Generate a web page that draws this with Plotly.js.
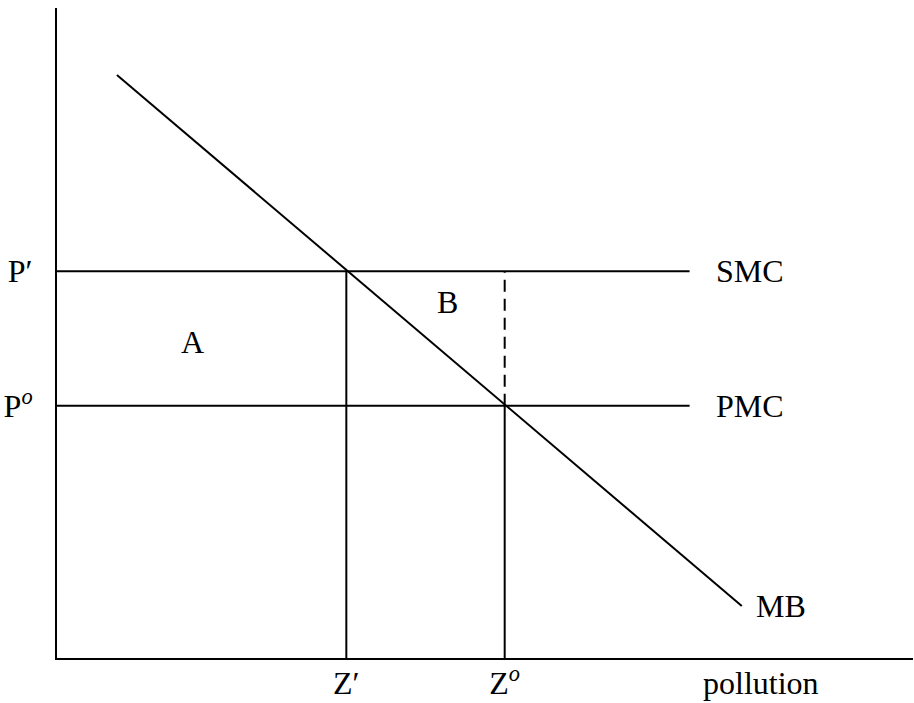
<!DOCTYPE html>
<html>
<head>
<meta charset="utf-8">
<script src="https://cdn.plot.ly/plotly-3.0.1.min.js"></script>
<style>html,body{margin:0;padding:0;background:#fff;}#chart{width:914px;height:703px;}</style>
</head>
<body>
<div id="chart"></div>
<script>
// Data (abstract units)
const priceLevels = [59.5, 38.8];          // P', P°
const priceLabels = ["P′", "P<sup><i>o</i></sup>"];
const quantityLevels = [33.8, 52.3];       // Z', Z°
const quantityLabels = ["Z′", "Z<sup><i>o</i></sup>"];
const mbX = [7, 80];
const mbY = [89.7, 8];
const costEndX = 73.9;
const curveLabels = ["SMC", "PMC", "MB"];
const areaLabels = ["A", "B"];
const areaX = [15.8, 45.6];
const areaY = [48.6, 54.8];
const axisLabel = "pollution";

const FONT = "Liberation Serif, Times New Roman, serif";
const FS = 32;
const black = "#000";

const lineStyle = {color: black, width: 2};
const traces = [
  // MB
  {x: mbX, y: mbY, mode: "lines", line: lineStyle, hoverinfo: "skip"},
  // SMC
  {x: [0, costEndX], y: [priceLevels[0], priceLevels[0]], mode: "lines", line: lineStyle, hoverinfo: "skip"},
  // PMC
  {x: [0, costEndX], y: [priceLevels[1], priceLevels[1]], mode: "lines", line: lineStyle, hoverinfo: "skip"},
  // Z' vertical
  {x: [quantityLevels[0], quantityLevels[0]], y: [0, priceLevels[0]], mode: "lines", line: lineStyle, hoverinfo: "skip"},
  // Z° vertical solid
  {x: [quantityLevels[1], quantityLevels[1]], y: [0, priceLevels[1]], mode: "lines", line: lineStyle, hoverinfo: "skip"},
  // Z° vertical dashed
  {x: [quantityLevels[1], quantityLevels[1]], y: [priceLevels[1], priceLevels[0]], mode: "lines", line: {color: black, width: 2, dash: "12px,7px"}, hoverinfo: "skip"}
];

const annotations = [
  {x: costEndX + 2.8, y: priceLevels[0], text: curveLabels[0], xanchor: "left"},
  {x: costEndX + 2.8, y: priceLevels[1], text: curveLabels[1], xanchor: "left"},
  {x: mbX[1] + 1.4, y: mbY[1], text: curveLabels[2], xanchor: "left"},
  {x: areaX[0], y: areaY[0], text: areaLabels[0], xanchor: "center"},
  {x: areaX[1], y: areaY[1], text: areaLabels[1], xanchor: "center"},
  {x: 75.2, y: 0, text: axisLabel, xanchor: "left", yanchor: "top", yshift: -5}
].map(a => Object.assign({xref: "x", yref: "y", showarrow: false, yanchor: "middle",
  font: {family: FONT, size: FS, color: black}}, a));

const layout = {
  width: 914, height: 703,
  margin: {l: 57, r: 1, t: 8, b: 45, pad: 0},
  paper_bgcolor: "#fff", plot_bgcolor: "#fff",
  showlegend: false,
  xaxis: {range: [0, 100], showgrid: false, zeroline: false, showline: true, linecolor: black, linewidth: 2,
    tickvals: quantityLevels, ticktext: quantityLabels, ticks: "", ticklabelstandoff: -4,
    tickfont: {family: FONT, size: FS, color: black}, fixedrange: true},
  yaxis: {range: [0, 100], showgrid: false, zeroline: false, showline: true, linecolor: black, linewidth: 2,
    tickvals: priceLevels, ticktext: priceLabels, ticks: "", ticklabelstandoff: 16,
    tickfont: {family: FONT, size: FS, color: black}, fixedrange: true},
  annotations: annotations
};

Plotly.newPlot("chart", traces, layout, {displayModeBar: false, staticPlot: true});
</script>
</body>
</html>
